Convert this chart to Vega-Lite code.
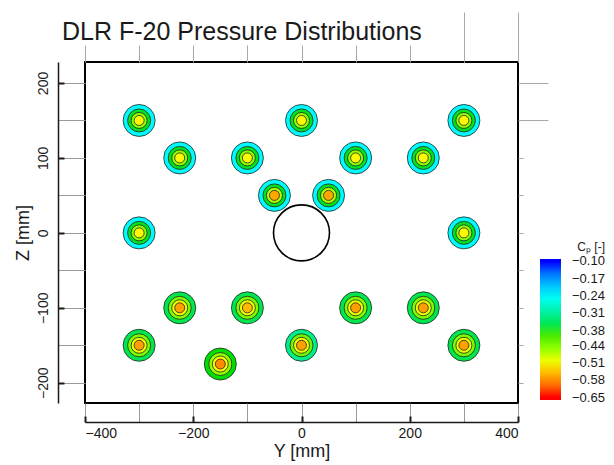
{
  "$schema": "https://vega.github.io/schema/vega-lite/v6.json",
  "width": 433,
  "height": 341,
  "autosize": "none",
  "padding": {"left": 85, "top": 62, "right": 96, "bottom": 62},
  "background": "white",
  "config": {
    "font": "Liberation Sans",
    "view": {"stroke": "black", "strokeWidth": 2},
    "axis": {"grid": false, "labelColor": "#1a1a1a", "titleColor": "#1a1a1a", "titleFontWeight": "normal"}
  },
  "title": {"text": "DLR F-20 Pressure Distributions", "anchor": "start", "frame": "group", "dx": -23, "offset": 0, "dy": 53, "fontSize": 25, "fontWeight": "normal", "color": "#1a1a1a", "baseline": "alphabetic"},
  "resolve": {"axis": {"x": "independent", "y": "independent"}},
  "layer": [
    {
      "data": {"values": [
        {"y": -300, "z": 150, "r1": -0.235, "r2": -0.37, "r3": -0.45, "r4": -0.515},
        {"y": 0, "z": 150, "r1": -0.235, "r2": -0.37, "r3": -0.45, "r4": -0.515},
        {"y": 300, "z": 150, "r1": -0.235, "r2": -0.37, "r3": -0.45, "r4": -0.515},
        {"y": -225, "z": 100, "r1": -0.235, "r2": -0.37, "r3": -0.45, "r4": -0.515},
        {"y": -100, "z": 100, "r1": -0.235, "r2": -0.37, "r3": -0.45, "r4": -0.515},
        {"y": 100, "z": 100, "r1": -0.235, "r2": -0.37, "r3": -0.45, "r4": -0.515},
        {"y": 225, "z": 100, "r1": -0.235, "r2": -0.37, "r3": -0.45, "r4": -0.515},
        {"y": -50, "z": 50, "r1": -0.235, "r2": -0.37, "r3": -0.465, "r4": -0.56},
        {"y": 50, "z": 50, "r1": -0.235, "r2": -0.37, "r3": -0.465, "r4": -0.56},
        {"y": -300, "z": 0, "r1": -0.235, "r2": -0.37, "r3": -0.45, "r4": -0.515},
        {"y": 300, "z": 0, "r1": -0.235, "r2": -0.37, "r3": -0.45, "r4": -0.515},
        {"y": -225, "z": -100, "r1": -0.355, "r2": -0.44, "r3": -0.50, "r4": -0.565},
        {"y": -100, "z": -100, "r1": -0.355, "r2": -0.44, "r3": -0.50, "r4": -0.55},
        {"y": 100, "z": -100, "r1": -0.355, "r2": -0.44, "r3": -0.50, "r4": -0.565},
        {"y": 225, "z": -100, "r1": -0.355, "r2": -0.44, "r3": -0.50, "r4": -0.565},
        {"y": -300, "z": -150, "r1": -0.355, "r2": -0.44, "r3": -0.50, "r4": -0.565},
        {"y": 0, "z": -150, "r1": -0.32, "r2": -0.43, "r3": -0.50, "r4": -0.565},
        {"y": 300, "z": -150, "r1": -0.355, "r2": -0.44, "r3": -0.50, "r4": -0.565},
        {"y": -150, "z": -175, "r1": -0.375, "r2": -0.45, "r3": -0.51, "r4": -0.575}
      ]},
      "transform": [{"fold": ["r1", "r2", "r3", "r4"], "as": ["ring", "cp"]}],
      "mark": {"type": "point", "filled": true, "opacity": 1, "stroke": "#222222", "strokeWidth": 0.8},
      "encoding": {
        "x": {"field": "y", "type": "quantitative",
          "scale": {"domain": [-400, 400], "nice": false, "zero": false},
          "axis": {"orient": "bottom", "offset": 19, "values": [-400, -300, -200, -100, 0, 100, 200, 300, 400],
            "tickSize": -19, "tickColor": "#9a9a9a", "tickWidth": 1, "domainColor": "#1a1a1a", "domainWidth": 1.5,
            "labelExpr": "datum.value % 200 === 0 ? datum.label : ''", "labelFontSize": 14, "labelPadding": 23,
            "title": "Y [mm]", "titleFontSize": 18, "titlePadding": 2}},
        "y": {"field": "z", "type": "quantitative",
          "scale": {"domain": [-227, 228], "nice": false, "zero": false},
          "axis": {"orient": "left", "offset": 27, "values": [-200, -150, -100, -50, 0, 50, 100, 150, 200],
            "tickSize": -27, "tickColor": "#9a9a9a", "tickWidth": 1, "domainColor": "#1a1a1a", "domainWidth": 1.5,
            "labelExpr": "datum.value % 100 === 0 ? datum.label : ''", "labelFontSize": 14, "labelAngle": -90, "labelPadding": 35,
            "title": "Z [mm]", "titleFontSize": 18, "titlePadding": 4}},
        "size": {"field": "ring", "type": "nominal", "scale": {"type": "ordinal", "domain": ["r1", "r2", "r3", "r4"], "range": [1024, 529, 256, 100]}, "legend": null},
        "order": {"field": "ring", "sort": "ascending"},
        "color": {"field": "cp", "type": "quantitative",
          "scale": {"domain": [-0.66, -0.65, -0.58125, -0.5125, -0.44375, -0.375, -0.30625, -0.2375, -0.16875, -0.1, -0.09],
            "range": ["#ff0000", "#ff0000", "#ff8000", "#ffff00", "#80ff00", "#00e000", "#00f0a0", "#00ffff", "#0090ff", "#0000ff", "#0000ff"]},
          "legend": {"orient": "none", "legendX": 455, "legendY": 180, "title": "Cₚ [-]", "titleAnchor": "end",
            "titleFontSize": 12, "titleFontWeight": "normal", "titleColor": "#1a1a1a", "titlePadding": 5,
            "gradientLength": 141, "gradientThickness": 21, "gradientStrokeWidth": 0, "direction": "vertical",
            "values": [-0.65, -0.58, -0.51, -0.44, -0.38, -0.31, -0.24, -0.17, -0.1], "format": ".2f", "labelOverlap": false,
            "labelFontSize": 13, "labelOffset": 11, "labelColor": "#1a1a1a"}}
      }
    },
    {
      "data": {"values": [{"y": 0, "z": 0}]},
      "mark": {"type": "point", "filled": false, "fill": "white", "stroke": "black", "strokeWidth": 1.6, "size": 3136, "opacity": 1},
      "encoding": {
        "x": {"field": "y", "type": "quantitative", "scale": {"domain": [-400, 400], "nice": false, "zero": false},
          "axis": {"orient": "bottom", "offset": 19, "values": [-400, -200, 0, 200, 400], "tickSize": -6, "tickColor": "#1a1a1a", "tickWidth": 2, "domain": false, "labels": false, "title": null}},
        "y": {"field": "z", "type": "quantitative", "scale": {"domain": [-227, 228], "nice": false, "zero": false},
          "axis": {"orient": "left", "offset": 27, "values": [-200, -100, 0, 100, 200], "tickSize": -6, "tickColor": "#1a1a1a", "tickWidth": 2, "domain": false, "labels": false, "title": null}}
      }
    },
    {
      "data": {"values": [{"y": 0, "z": 0}]},
      "mark": {"type": "point", "opacity": 0},
      "encoding": {
        "x": {"field": "y", "type": "quantitative", "scale": {"domain": [-400, 400], "nice": false, "zero": false},
          "axis": {"orient": "top", "values": [-400, -300, -200, -100, 0, 100, 200, 300, 400], "tickSize": 17, "tickColor": "#a8a8a8", "tickWidth": 1, "domain": false, "labels": false, "title": null}},
        "y": {"field": "z", "type": "quantitative", "scale": {"domain": [-227, 228], "nice": false, "zero": false},
          "axis": {"orient": "right", "values": [-200, -150, -100, -50, 0, 50, 100], "tickSize": 5, "tickColor": "#a8a8a8", "tickWidth": 1, "domain": false, "labels": false, "title": null}}
      }
    },
    {
      "data": {"values": [{"y": 0, "z": 0}]},
      "mark": {"type": "point", "opacity": 0},
      "encoding": {
        "x": {"field": "y", "type": "quantitative", "scale": {"domain": [-400, 400], "nice": false, "zero": false},
          "axis": {"orient": "top", "values": [300, 400], "tickSize": 50, "tickColor": "#a8a8a8", "tickWidth": 1, "domain": false, "labels": false, "title": null}},
        "y": {"field": "z", "type": "quantitative", "scale": {"domain": [-227, 228], "nice": false, "zero": false},
          "axis": {"orient": "right", "values": [150, 200], "tickSize": 30, "tickColor": "#a8a8a8", "tickWidth": 1, "domain": false, "labels": false, "title": null}}
      }
    }
  ]
}
